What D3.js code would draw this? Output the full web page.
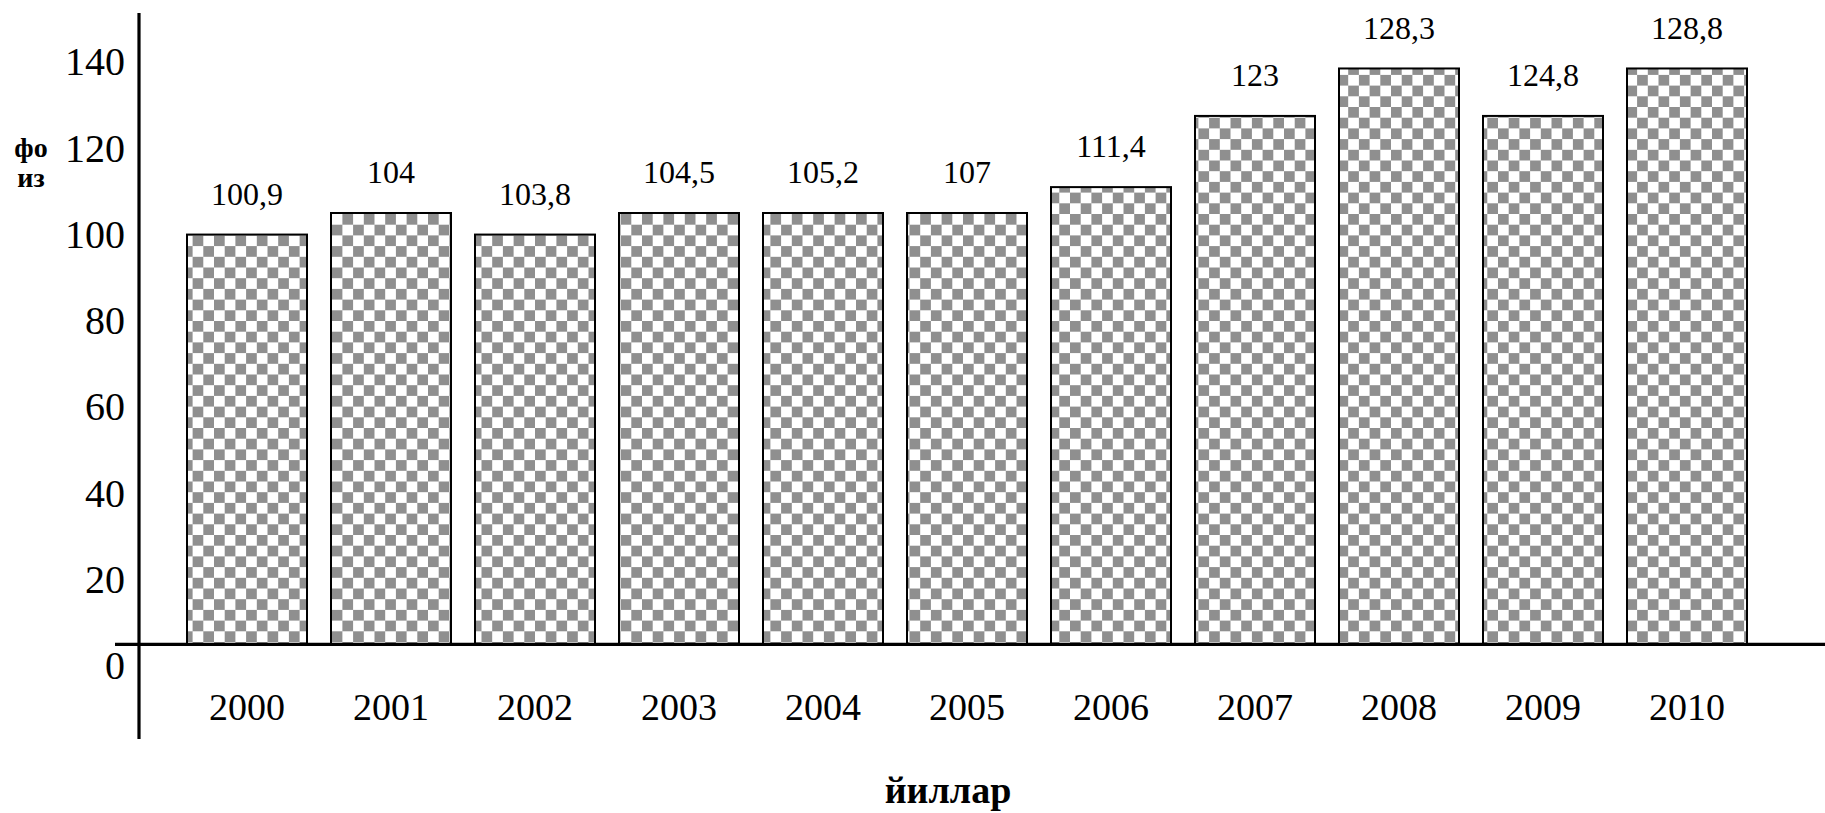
<!DOCTYPE html>
<html>
<head>
<meta charset="utf-8">
<script src="https://cdn.jsdelivr.net/npm/d3@7"></script>
<style>
    body { margin: 0; background: #fff; }
    svg { display: block; font-family: "Liberation Serif", "Times New Roman", serif; }
</style>
</head>
<body>
<div id="wrapper"></div>
<script>
// years on the x axis
const years = ["2000", "2001", "2002", "2003", "2004", "2005", "2006", "2007", "2008", "2009", "2010"];
// bar heights as drawn in the picture (read against the left axis)
const barHeights = [100, 105, 100, 105, 105, 105, 111, 127.5, 138.5, 127.5, 138.5];
// the value written above each bar
const barLabels = ["100,9", "104", "103,8", "104,5", "105,2", "107", "111,4", "123", "128,3", "124,8", "128,8"];
// left axis ticks
const yTicks = [0, 20, 40, 60, 80, 100, 120, 140];
// the horizontal axis crosses the left axis at about this value
const baseValue = 5;

function buildChart() {
    const dimension = {
        width: 1825,
        height: 813
    };

    const svg = d3.select("#wrapper").append("svg")
        .attr("width", dimension.width)
        .attr("height", dimension.height);

    // checker fill for the bars
    const cell = 10.7;
    const pattern = svg.append("defs").append("pattern")
        .attr("id", "checker")
        .attr("patternUnits", "userSpaceOnUse")
        .attr("width", cell * 2)
        .attr("height", cell * 2);
    pattern.append("rect").attr("width", cell * 2).attr("height", cell * 2).attr("fill", "#fff");
    pattern.append("rect").attr("width", cell).attr("height", cell).attr("fill", "#8f8f8f");
    pattern.append("rect").attr("x", cell).attr("y", cell).attr("width", cell).attr("height", cell).attr("fill", "#8f8f8f");

    const yScaler = d3.scaleLinear()
        .domain([0, 140])
        .range([666, 62]);

    const xScaler = d3.scaleBand()
        .domain(years)
        .range([175, 175 + 144 * years.length])
        .paddingInner(24 / 144)
        .paddingOuter(12 / 144);

    // bars
    svg.append("g")
        .selectAll("rect")
        .data(years)
        .join("rect")
        .attr("x", d => xScaler(d))
        .attr("width", xScaler.bandwidth())
        .attr("y", (d, i) => yScaler(barHeights[i]))
        .attr("height", (d, i) => yScaler(baseValue) - yScaler(barHeights[i]))
        .attr("fill", "url(#checker)")
        .attr("stroke", "#000")
        .attr("stroke-width", 2);

    // value labels
    svg.append("g")
        .selectAll("text")
        .data(years)
        .join("text")
        .attr("x", d => xScaler(d) + xScaler.bandwidth() / 2)
        .attr("y", (d, i) => yScaler(barHeights[i]) - 41)
        .attr("dy", "0.35em")
        .attr("text-anchor", "middle")
        .style("font-size", "32px")
        .text((d, i) => barLabels[i]);

    // left axis: tick labels only
    const yAxis = svg.append("g")
        .attr("transform", "translate(135,0)")
        .call(d3.axisLeft(yScaler).tickValues(yTicks).tickSize(0).tickPadding(10));
    yAxis.select(".domain").remove();
    yAxis.selectAll("text")
        .attr("fill", "#000")
        .style("font-family", "Liberation Serif, serif")
        .style("font-size", "40px");

    // axis lines
    svg.append("line")
        .attr("x1", 139).attr("x2", 139)
        .attr("y1", 13).attr("y2", 739)
        .attr("stroke", "#000").attr("stroke-width", 3.2);
    svg.append("line")
        .attr("x1", 115).attr("x2", dimension.width)
        .attr("y1", yScaler(baseValue)).attr("y2", yScaler(baseValue))
        .attr("stroke", "#000").attr("stroke-width", 3.2);

    // year labels
    const xAxis = svg.append("g")
        .attr("transform", "translate(0,707)")
        .call(d3.axisBottom(xScaler).tickSize(0).tickPadding(0));
    xAxis.select(".domain").remove();
    xAxis.selectAll("text")
        .attr("y", 0)
        .attr("dy", "0.35em")
        .attr("fill", "#000")
        .style("font-family", "Liberation Serif, serif")
        .style("font-size", "38px");

    // axis titles
    const yTitle = svg.append("text")
        .attr("text-anchor", "middle")
        .style("font-size", "28px")
        .style("font-weight", "bold");
    yTitle.append("tspan").attr("x", 31).attr("y", 157).text("фо");
    yTitle.append("tspan").attr("x", 31).attr("y", 187).text("из");

    svg.append("text")
        .attr("x", 948)
        .attr("y", 803)
        .attr("text-anchor", "middle")
        .style("font-size", "38px")
        .style("font-weight", "bold")
        .text("йиллар");
}

buildChart();
</script>
</body>
</html>
